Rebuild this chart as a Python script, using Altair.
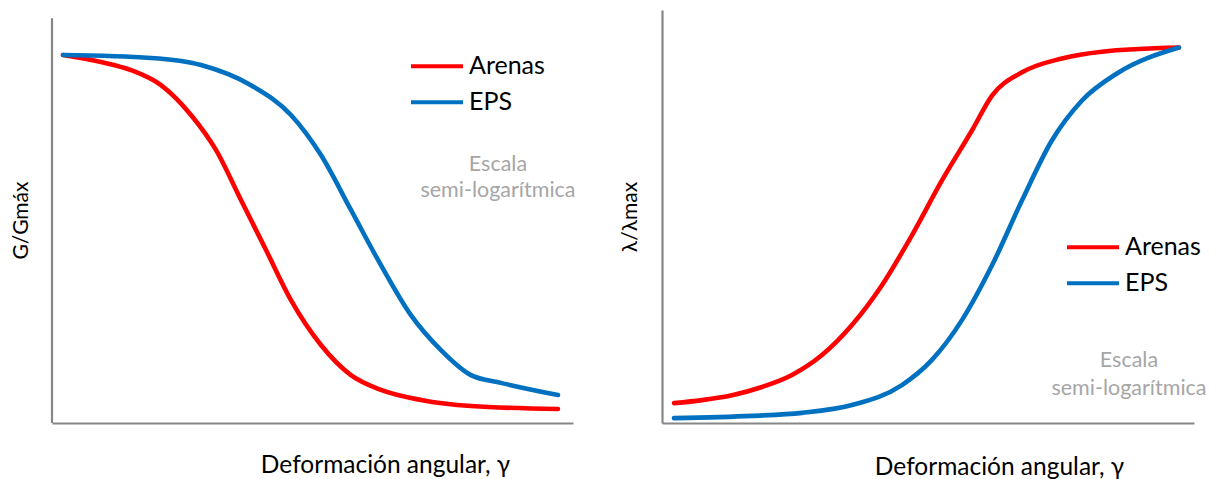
import altair as alt
import pandas as pd

FONT = "Lato"
series = ["Arenas", "EPS"]
colors = ["#FF0000", "#0070C0"]
AXIS_GRAY = "#878787"

# Left panel: G/Gmax vs log10(gamma)
g_arenas_x = [-6.0, -5.616, -5.313, -5.010, -4.707, -4.455, -4.202, -3.949, -3.697, -3.394, -3.091, -2.788, -2.384, -1.879, -1.0]
g_arenas_y = [1.0, 0.981, 0.959, 0.918, 0.837, 0.742, 0.606, 0.470, 0.334, 0.212, 0.130, 0.090, 0.0625, 0.046, 0.038]
g_eps_x = [-6.0, -5.111, -4.606, -4.101, -3.697, -3.394, -3.091, -2.788, -2.485, -2.182, -1.879, -1.576, -1.0]
g_eps_y = [1.0, 0.992, 0.973, 0.918, 0.837, 0.728, 0.579, 0.429, 0.293, 0.198, 0.130, 0.109, 0.076]

# Right panel: lambda/lambda max vs log10(gamma)
l_arenas_x = [-6.0, -5.723, -5.426, -5.129, -4.832, -4.535, -4.238, -3.941, -3.644, -3.347, -3.050, -2.851, -2.554, -2.158, -1.762, -1.0]
l_arenas_y = [0.053, 0.061, 0.074, 0.096, 0.128, 0.181, 0.261, 0.367, 0.500, 0.646, 0.779, 0.872, 0.934, 0.971, 0.989, 1.0]
l_eps_x = [-6.0, -5.228, -4.733, -4.238, -3.743, -3.446, -3.149, -2.851, -2.554, -2.257, -1.960, -1.614, -1.0]
l_eps_y = [0.013, 0.019, 0.027, 0.048, 0.101, 0.168, 0.274, 0.420, 0.593, 0.753, 0.859, 0.931, 1.0]

note_lines = ["Escala", "semi-logarítmica"]
left_note_x = [-1.606, -1.606]
left_note_y = [0.686, 0.615]
right_note_x = [-1.495, -1.495]
right_note_y = [0.150, 0.0745]

x_title = "Deformación angular, γ"


def frame(xa, ya, xe, ye):
    rows = [{"lg": a, "v": b, "s": series[0], "o": i} for i, (a, b) in enumerate(zip(xa, ya))]
    rows += [{"lg": a, "v": b, "s": series[1], "o": i} for i, (a, b) in enumerate(zip(xe, ye))]
    return pd.DataFrame(rows)


def panel(df, nx, ny, ytitle, xdom, ydom, w, h, title_x, title_y, ytx, yty, legx, legy, axis_top=None):
    xs = alt.Scale(domain=xdom, nice=False, zero=False)
    ys = alt.Scale(domain=ydom, nice=False, zero=False)
    xax = alt.Axis(title=x_title, labels=False, ticks=False, grid=False,
                   domainColor=AXIS_GRAY, domainWidth=2.2,
                   titleFont=FONT, titleFontSize=24.5, titleFontWeight="normal", titleColor="#000000",
                   titleX=title_x, titleY=title_y, titleAlign="center", titleBaseline="alphabetic")
    yax = alt.Axis(title=ytitle, labels=False, ticks=False, grid=False,
                   domain=axis_top is None,
                   domainColor=AXIS_GRAY, domainWidth=2.2,
                   titleFont=FONT, titleFontSize=21, titleFontWeight="normal", titleColor="#000000",
                   titleX=ytx, titleY=yty, titleAngle=270, titleAlign="center", titleBaseline="middle")
    lines = alt.Chart(df).mark_line(strokeWidth=4.6, strokeCap="round", interpolate="monotone").encode(
        x=alt.X("lg:Q", scale=xs, axis=xax),
        y=alt.Y("v:Q", scale=ys, axis=yax),
        color=alt.Color("s:N", scale=alt.Scale(domain=series, range=colors),
                        legend=alt.Legend(title=None, orient="none", legendX=legx, legendY=legy,
                                          symbolType="stroke", symbolSize=2704, symbolStrokeWidth=4,
                                          clipHeight=35.5, rowPadding=0, padding=0,
                                          labelFont=FONT, labelFontSize=25, labelColor="#000000",
                                          labelOffset=4)),
        order="o:Q",
    )
    ndf = pd.DataFrame({"lg": nx, "v": ny, "t": note_lines})
    notes = alt.Chart(ndf).mark_text(font=FONT, fontSize=21.5, color="#A6A6A6", align="center",
                                     baseline="alphabetic").encode(
        x=alt.X("lg:Q", scale=xs), y=alt.Y("v:Q", scale=ys), text="t:N")
    layers = [lines, notes]
    if axis_top is not None:
        adf = pd.DataFrame({"lg": [xdom[0]], "v0": [ydom[0]], "v1": [axis_top]})
        axis_line = alt.Chart(adf).mark_rule(color=AXIS_GRAY, strokeWidth=2.2).encode(
            x=alt.X("lg:Q", scale=xs), y=alt.Y("v0:Q", scale=ys), y2="v1:Q")
        layers = [axis_line] + layers
    return alt.layer(*layers).properties(width=w, height=h)


left = panel(frame(g_arenas_x, g_arenas_y, g_eps_x, g_eps_y), left_note_x, left_note_y,
             "G/Gmáx", [-6.111, -0.848], [0, 1.1223], 521, 413, 333, 49, -31, 210, 357, 38.5,
             axis_top=1.1)
right = panel(frame(l_arenas_x, l_arenas_y, l_eps_x, l_eps_y), right_note_x, right_note_y,
              "λ/λmax", [-6.119, -0.851], [0, 1.1], 532, 413, 337, 51, -32, 206.5, 403, 219.5)

chart = alt.hconcat(left, right, spacing=43).resolve_legend(color="independent").properties(
    padding={"left": 2, "top": 2, "right": 0, "bottom": 0}
).configure_view(stroke=None)

chart.save("out.html", embed_options={"renderer": "svg", "actions": False})
